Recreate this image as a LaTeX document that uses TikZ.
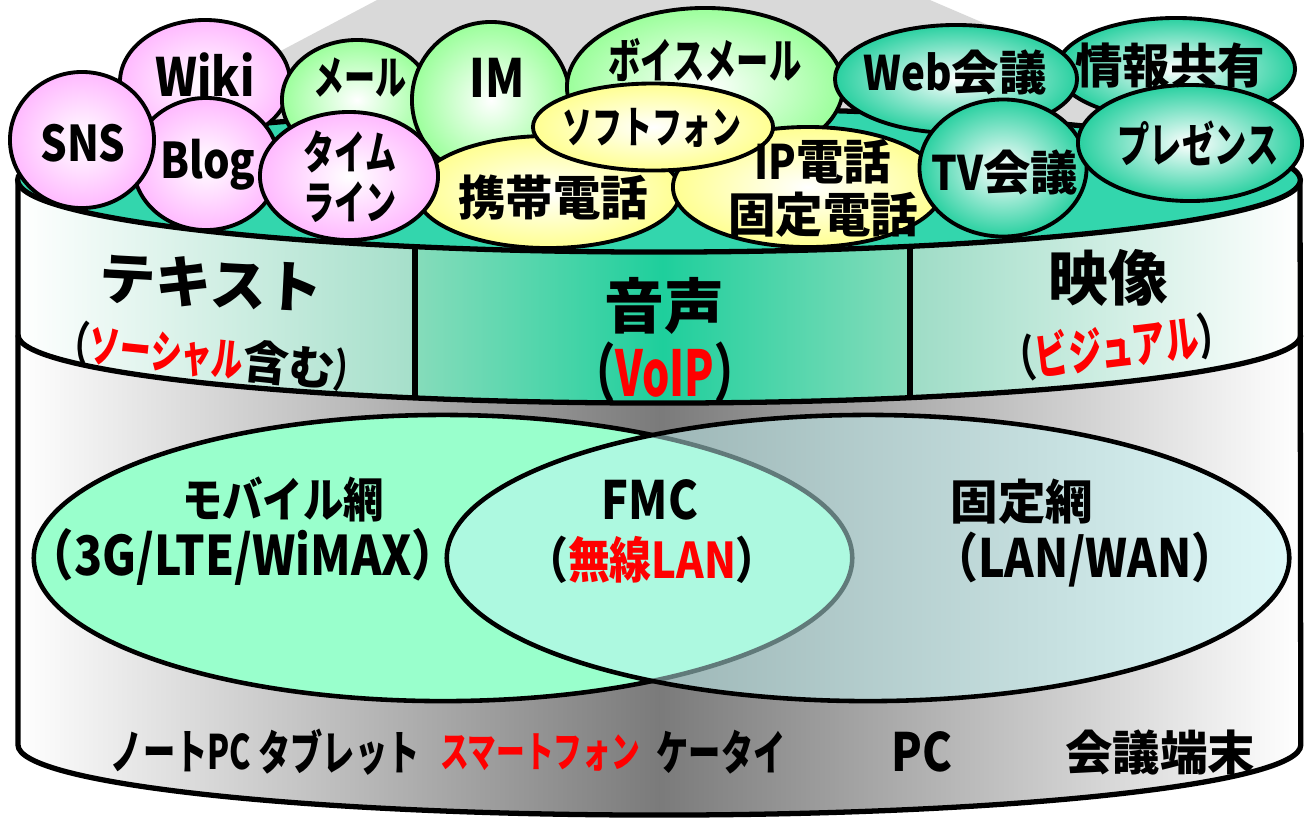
\documentclass[tikz,border=0pt]{standalone}
\usepackage{fontspec}
\setmainfont{Noto Sans CJK JP}
\newfontfamily\nw{Noto Sans CJK JP}[FakeStretch=0.85]
\newfontfamily\hw{Noto Sans CJK JP}[FakeStretch=0.68]
\usetikzlibrary{shapes.geometric}
\definecolor{topface}{RGB}{51,214,173}
\definecolor{bandl}{RGB}{165,223,202}
\definecolor{bandm}{RGB}{134,220,187}
\definecolor{bandc}{RGB}{30,207,156}
\definecolor{bandr}{RGB}{158,220,198}
\definecolor{mint}{RGB}{153,255,204}
\definecolor{fixc}{RGB}{194,245,245}
\definecolor{bpink}{RGB}{255,185,255}
\definecolor{bgreen}{RGB}{155,255,155}
\definecolor{byellow}{RGB}{255,255,145}
\definecolor{bteal}{RGB}{40,208,160}
\newcommand\redtx[1]{\textcolor{red}{#1}}
\tikzset{
  bubble/.style={ellipse, draw, line width=1.1pt, inner color=white, outer color=#1, inner sep=0pt},
  venn/.style={ellipse, draw, line width=1.3pt, inner sep=0pt, minimum height=2.86cm},
  rim/.style={line width=1.5pt},
  lab/.style={inner sep=0pt, align=center, font=\bfseries\fontsize{13.5}{15}\selectfont},
  nlab/.style={lab, font=\nw\bfseries\fontsize{14}{15}\selectfont},
  hlab/.style={lab, font=\hw\bfseries\fontsize{13.5}{14.5}\selectfont},
}
\begin{document}
\begin{tikzpicture}[x=0.01cm, y=-0.01cm]
\useasboundingbox (0,0) rectangle (1304,817);

% backdrop behind the bubbles
\fill[black!15] (377,0) -- (930,0) -- (1233,130) -- (131,130) -- cycle;

% cylinder body
\shade[left color=white, right color=white, middle color=black!52]
  (18,180) -- (18,745) arc[start angle=180, end angle=360, x radius=6.41cm, y radius=0.7cm] -- (1300,180) -- cycle;

% media band
\begin{scope}
  \clip (18,180) arc[start angle=180, end angle=360, x radius=6.41cm, y radius=0.72cm]
    -- (1300,335) arc[start angle=360, end angle=180, x radius=6.41cm, y radius=0.68cm] -- cycle;
  \shade[left color=white, right color=bandl] (18,100) rectangle (415,420);
  \shade[left color=bandm, right color=bandm, middle color=bandc] (415,100) rectangle (910,420);
  \shade[left color=bandr, right color=white] (910,100) rectangle (1300,420);
  \draw[rim] (415,150) -- (415,420);
  \draw[rim] (910,150) -- (910,420);
\end{scope}
\draw[rim] (18,335) arc[start angle=180, end angle=360, x radius=6.41cm, y radius=0.68cm];
\draw[rim] (18,180) -- (18,745) arc[start angle=180, end angle=360, x radius=6.41cm, y radius=0.7cm] -- (1300,180);
\filldraw[rim, fill=topface] (659,180) ellipse [x radius=6.41cm, y radius=0.72cm];

% networks
\node[venn, minimum width=8.18cm, fill=mint] (mob) at (443,558) {};
\node[venn, minimum width=8.42cm, fill=fixc, fill opacity=0.5] (fix) at (868,558) {};

% bubbles
\node[bubble=bpink, minimum width=1.70cm, minimum height=1.24cm] (wiki) at (205,82) {};
\node[bubble=bgreen, minimum width=1.50cm, minimum height=1.20cm] (mail) at (357,100) {};
\node[bubble=bgreen, minimum width=1.58cm, minimum height=1.56cm] (im) at (491,100) {};
\node[bubble=bgreen, minimum width=2.76cm, minimum height=1.58cm] (vmail) at (705,87) {};
\node[bubble=bpink, minimum width=1.46cm, minimum height=1.32cm] (blog) at (206,164) {};
\node[bubble=bpink, minimum width=1.44cm, minimum height=1.36cm] (sns) at (82,140) {};
\node[bubble=byellow, minimum width=2.64cm, minimum height=1.12cm] (keitai) at (548,192) {};
\node[bubble=bpink, minimum width=1.78cm, minimum height=1.28cm] (tline) at (349,176) {};
\node[bubble=bteal, minimum width=2.38cm, minimum height=1.02cm] (share) at (1176,69) {};
\node[bubble=bteal, minimum width=2.42cm, minimum height=1.08cm] (web) at (956,79) {};
\node[bubble=byellow, minimum width=2.70cm, minimum height=1.20cm] (ipphone) at (808,187) {};
\node[bubble=byellow, minimum width=2.40cm, minimum height=0.87cm] (soft) at (653,127) {};
\node[bubble=bteal, minimum width=1.67cm, minimum height=1.37cm] (tv) at (1003,168) {};
\node[bubble=bteal, minimum width=2.24cm, minimum height=1.16cm] (pres) at (1190,143) {};

% bubble texts
\node[nlab] (snst) at (83,143) {SNS};
\node[nlab, font=\nw\bfseries\fontsize{15}{16}\selectfont] (wikit) at (205,75) {Wiki};
\node[nlab] (blogt) at (208,165) {Blog};
\node[hlab, font=\hw\bfseries\fontsize{13}{14.2}\selectfont] (tlinet) at (350,177) {タイム\\ライン};
\node[hlab, font=\hw\bfseries\fontsize{13}{14}\selectfont] (mailt) at (360,78) {メール};
\node[nlab, font=\nw\bfseries\fontsize{15}{16}\selectfont] (imt) at (497,78) {IM};
\node[hlab] (vmailt) at (705,60) {ボイスメール};
\node[hlab, font=\hw\bfseries\fontsize{12.5}{14}\selectfont] (softt) at (652,128) {ソフトフォン};
\node[lab] (keitait) at (553,197) {携帯電話};
\node[lab] (ipphonet) at (823,188) {{\nw IP}電話\\固定電話};
\node[lab] (webt) at (955,72) {{\nw Web}会議};
\node[lab] (sharet) at (1170,65) {情報共有};
\node[lab] (tvt) at (1005,172) {{\nw TV}会議};
\node[hlab] (prest) at (1198,143) {プレゼンス};

% media
\node[lab, font=\bfseries\fontsize{16}{17}\selectfont, rotate=-3] (textt) at (211,283) {テキスト};
\node[lab, font=\bfseries\fontsize{13}{14}\selectfont, rotate=-6] (soct) at (212,357) {{\hw （\redtx{ソーシャル}}含む{\hw ）}};
\node[lab, font=\bfseries\fontsize{17}{18}\selectfont] (voicet) at (664,306) {音声};
\node[hlab, font=\hw\bfseries\fontsize{18}{19}\selectfont] (voipt) at (665,372) {（\redtx{VoIP}）};
\node[lab, font=\bfseries\fontsize{17}{18}\selectfont] (videot) at (1108,278) {映像};
\node[hlab, font=\hw\bfseries\fontsize{14}{15}\selectfont, rotate=7] (vist) at (1117,347) {（\redtx{ビジュアル}）};

% network texts
\node[nlab, font=\nw\bfseries\fontsize{13.5}{15}\selectfont] (mobt) at (283,499) {モバイル網};
\node[nlab, font=\nw\bfseries\fontsize{15.5}{16}\selectfont] (mobsubt) at (243,557) {（3G/LTE/WiMAX）};
\node[nlab, font=\nw\bfseries\fontsize{15}{16}\selectfont] (fmct) at (650,500) {FMC};
\node[nlab] (wlant) at (652,560) {（\redtx{無線LAN}）};
\node[lab] (fixt) at (1022,502) {固定網};
\node[nlab, font=\nw\bfseries\fontsize{15}{16}\selectfont] (fixsubt) at (1085,560) {（LAN/WAN）};

% terminals
\node[hlab] (notet) at (181,752) {ノートPC};
\node[hlab] (tabt) at (339,752) {タブレット};
\node[hlab, font=\hw\bfseries\fontsize{12}{14}\selectfont] (smartt) at (540,752) {\redtx{スマートフォン}};
\node[hlab] (ktait) at (721,752) {ケータイ};
\node[nlab, font=\nw\bfseries\fontsize{15}{16}\selectfont] (pct) at (922,752) {PC};
\node[lab] (conft) at (1160,752) {会議端末};
\end{tikzpicture}
\end{document}
